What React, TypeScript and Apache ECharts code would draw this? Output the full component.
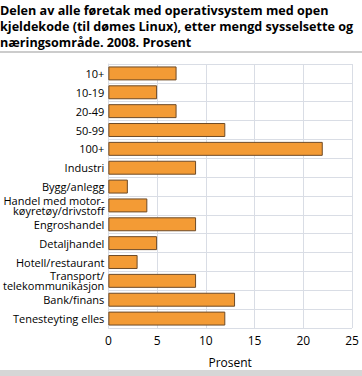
import React, { useEffect, useRef } from "react";
import * as echarts from "echarts";

const titleLines = [
  "Delen av alle føretak med operativsystem med open",
  "kjeldekode (til dømes Linux), etter mengd sysselsette og",
  "næringsområde. 2008. Prosent",
];
const categories = [
  "10+",
  "10-19",
  "20-49",
  "50-99",
  "100+",
  "Industri",
  "Bygg/anlegg",
  "Handel med motor-\nkøyretøy/drivstoff",
  "Engroshandel",
  "Detaljhandel",
  "Hotell/restaurant",
  "Transport/\ntelekommunikasjon",
  "Bank/finans",
  "Tenesteyting elles",
];
const values = [7, 5, 7, 12, 22, 9, 2, 4, 9, 5, 3, 9, 13, 12];
const xAxisName = "Prosent";

const FONT = "'Open Sans', 'Noto Sans', sans-serif";

export default function App() {
  const ref = useRef<HTMLDivElement>(null);
  useEffect(() => {
    if (!ref.current) return;
    const chart = echarts.init(ref.current, null, { renderer: "svg" });
    chart.setOption({
      animation: false,
      backgroundColor: "#ffffff",
      title: {
        text: titleLines.join("\n"),
        left: 0,
        top: 2,
        padding: 0,
        textStyle: {
          fontFamily: FONT,
          fontSize: 12.6,
          fontWeight: "bold",
          color: "#000",
          lineHeight: 16,
        },
      },
      graphic: [
        { type: "rect", shape: { x: 0, y: 51, width: 362, height: 2 }, style: { fill: "#cccccc" } },
        { type: "rect", shape: { x: 0, y: 370, width: 362, height: 6 }, style: { fill: "#d6d6d6" } },
      ],
      grid: { left: 107, right: 10, top: 64, bottom: 48 },
      xAxis: {
        type: "value",
        min: 0,
        max: 25,
        interval: 5,
        name: xAxisName,
        nameLocation: "middle",
        nameGap: 28,
        nameTextStyle: { fontFamily: FONT, fontSize: 12, color: "#000" },
        axisLine: { show: false },
        axisTick: { show: false },
        axisLabel: { fontFamily: FONT, fontSize: 12, color: "#000", margin: 6 },
        splitLine: { show: true, lineStyle: { color: "#d9dde5", width: 1 } },
      },
      yAxis: {
        type: "category",
        data: categories,
        inverse: true,
        axisLine: { show: true, lineStyle: { color: "#d9dde5" } },
        axisTick: { show: false },
        axisLabel: {
          fontFamily: FONT,
          fontSize: 11,
          color: "#000",
          margin: 4,
          lineHeight: 10,
        },
        splitLine: { show: true, lineStyle: { color: "#d9dde5", width: 1 } },
      },
      series: [
        {
          type: "bar",
          data: values,
          barCategoryGap: "26%",
          itemStyle: { color: "#f39b35", borderColor: "#6e4a26", borderWidth: 1 },
        },
      ],
    });
    return () => chart.dispose();
  }, []);
  return (
    <div
      ref={ref}
      style={{ position: "fixed", left: 0, top: 0, width: 362, height: 376 }}
    />
  );
}
